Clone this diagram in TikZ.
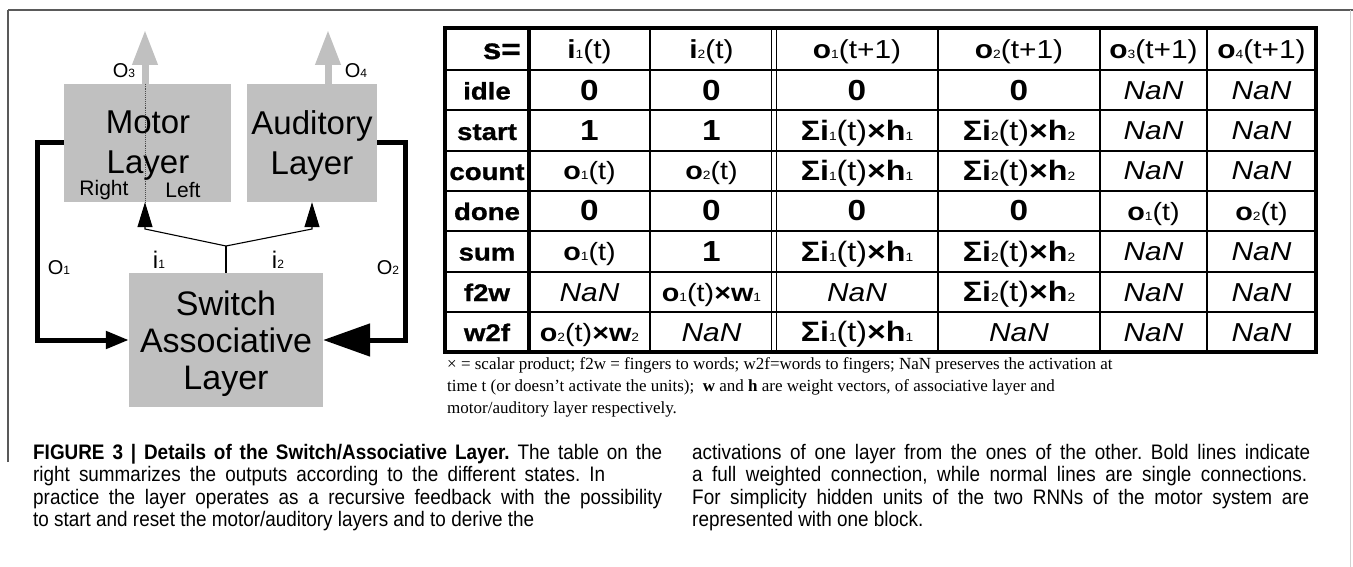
\documentclass[tikz,border=0pt]{standalone}
\usepackage{fontspec}
\setmainfont{Liberation Sans}
\newfontfamily\tabfont[FakeStretch=1.15]{Liberation Sans}
\newfontfamily\lblfont[FakeStretch=1.15,BoldFeatures={FakeBold=1}]{Liberation Sans}
\newfontfamily\serfont{Liberation Serif}
\newfontfamily\capfont[FakeStretch=0.9]{Liberation Sans}
\usetikzlibrary{arrows.meta}
\definecolor{boxgray}{RGB}{192,192,192}
\definecolor{framegray}{RGB}{90,90,90}
\newcommand\fsz[1]{\fontsize{#1}{#1}\selectfont}
\newcommand\dsub[1]{{\fontsize{12}{12}\selectfont #1}}
\newcommand\bsub[2]{{\bfseries #1}\dsub{#2}}
\newcommand\tbot[1]{\bsub{o}{#1}(t)}
\newcommand\tbsig[2]{{\fsz{28}{\bfseries Σ}\bsub{i}{#1}(t){\bfseries ×}\bsub{h}{#2}}}
\newcommand\tbnan{{\itshape\fsz{26}NaN}}
\newcommand\tbval[1]{{\bfseries\fsz{29}#1}}
\frenchspacing
\begin{document}
\begin{tikzpicture}[x=1pt,y=-1pt,
  layerbox/.style={fill=boxgray, draw=none, inner sep=0pt},
  bigtxt/.style={align=center, inner sep=0pt},
  smalltxt/.style={inner sep=0pt, font=\fsz{21}},
  lbl/.style={inner sep=0pt, anchor=base, font=\fsz{20}},
  ilbl/.style={inner sep=0pt, anchor=base, font=\fsz{24}},
  grayarrow/.style={draw=boxgray, line width=7pt, -{Triangle[length=35pt,width=24pt]}},
  dotline/.style={draw=black!70, line width=0.9pt, densely dotted},
  fb/.style={draw=black, line width=5pt},
  thinl/.style={draw=black, line width=1.1pt},
  tline/.style={draw=black, line width=2pt},
  tthin/.style={draw=black, line width=1.8pt},
  touter/.style={draw=black, line width=4pt},
  tc/.style={anchor=base, inner sep=0pt, font=\tabfont\fsz{25}},
  th/.style={anchor=base, inner sep=0pt, font=\tabfont\fsz{26}},
  rl/.style={anchor=base, inner sep=0pt, font=\lblfont\bfseries\fsz{24}},
  sertxt/.style={anchor=base west, inner sep=0pt, font=\serfont\fsz{17}},
  captxt/.style={anchor=base west, inner sep=0pt, font=\capfont\fsz{21}}
]
\useasboundingbox (0,0) rectangle (1353,567);
\fill[white] (0,0) rectangle (1353,567);
% frame
\draw[draw=black!65, line width=1.6pt] (8,462) -- (8,10);
\draw[draw=framegray, line width=1.2pt] (8,10) -- (1353,10);
\draw[draw=black!18, line width=1pt] (1350,10) -- (1350,567);

% ---------------- left diagram ----------------
\node[layerbox, minimum width=167pt, minimum height=118pt] (motor) at (147.5,143) {};
\node[layerbox, minimum width=130pt, minimum height=118pt] (audit) at (312,143) {};
\node[layerbox, minimum width=194pt, minimum height=134pt] (switch) at (226,340) {};

\coordinate (o3tip) at (145,30);
\coordinate (o4tip) at (328,30);
\draw[grayarrow] (o3tip |- motor.north) -- (o3tip);
\draw[grayarrow] (o4tip |- audit.north) -- (o4tip);
\draw[dotline] (o3tip |- motor.north) -- (o3tip |- motor.south);

\node[bigtxt, font=\fontsize{33}{40}\selectfont] (motortxt) at (148,146) {Motor\\Layer};
\node[bigtxt, font=\fontsize{33}{40}\selectfont] (audittxt) at (312,146) {Auditory\\Layer};
\node[bigtxt, font=\fontsize{34}{37}\selectfont] (switchtxt) at (226,344) {Switch\\Associative\\Layer};
\node[smalltxt] (rightlbl) at (104,190) {Right};
\node[smalltxt] (leftlbl) at (183,190) {Left};

\coordinate (lc) at (37,143);
\coordinate (rc) at (405,143);
\draw[fb, -{Triangle[length=23pt,width=17pt]}] (motor.west) -- (lc) |- (switch.west);
\draw[fb, -{Triangle[length=47pt,width=32pt]}] (audit.east) -- (rc) |- (switch.east);

\coordinate (fork) at (226,246);
\coordinate (mi) at (145,229);
\coordinate (ai) at (312,229);
\draw[thinl] (switch.north) -- (fork);
\draw[thinl, -{Triangle[length=25pt,width=15pt]}] (fork) -- (mi) -- (mi |- motor.south);
\draw[thinl, -{Triangle[length=25pt,width=15pt]}] (fork) -- (ai) -- (ai |- audit.south);

\node[lbl] (o3l) at (124,78) {O\dsub{3}};
\node[lbl] (o4l) at (356,78) {O\dsub{4}};
\node[lbl] (o1l) at (59,274) {O\dsub{1}};
\node[lbl] (o2l) at (388,274) {O\dsub{2}};
\node[ilbl] (i1l) at (159,268) {i\dsub{1}};
\node[ilbl] (i2l) at (278,268) {i\dsub{2}};

% ---------------- table ----------------
\foreach \yy in {70,110.5,151,191,231,271.5,312} \draw[tline] (445,\yy) -- (1316,\yy);
\draw[draw=black, line width=4.5pt] (529,28.3) -- (529,352);
\foreach \xx in {650,938,1100,1207} \draw[tthin] (\xx,28.3) -- (\xx,352);
\draw[draw=black, line width=1pt] (771,28.3) -- (771,352);
\draw[draw=black, line width=1pt] (776,28.3) -- (776,352);
\draw[touter] (445,28.3) rectangle (1316,352);

% header
\node[anchor=base east, inner sep=0pt, font=\lblfont\bfseries\fsz{29}] (hs) at (521,59) {s=};
\node[th] (h1) at (589.5,58.5) {\bsub{i}{1}(t)};
\node[th] (h2) at (711.5,58.5) {\bsub{i}{2}(t)};
\node[th] (h3) at (857,58.5) {\bsub{o}{1}(t+1)};
\node[th] (h4) at (1019,58.5) {\bsub{o}{2}(t+1)};
\node[th] (h5) at (1153.5,58.5) {\bsub{o}{3}(t+1)};
\node[th] (h6) at (1261.5,58.5) {\bsub{o}{4}(t+1)};

% idle
\node[rl] (r1) at (487,99.5) {idle};
\node[tc] (c11) at (589.5,100.5) {\tbval{0}};
\node[tc] (c12) at (711.5,100.5) {\tbval{0}};
\node[tc] (c13) at (857,100.5) {\tbval{0}};
\node[tc] (c14) at (1019,100.5) {\tbval{0}};
\node[tc] (c15) at (1153.5,99.5) {\tbnan};
\node[tc] (c16) at (1261.5,99.5) {\tbnan};
% start
\node[rl] (r2) at (487,140) {start};
\node[tc] (c21) at (589.5,141) {\tbval{1}};
\node[tc] (c22) at (711.5,141) {\tbval{1}};
\node[tc] (c23) at (857,140.5) {\tbsig{1}{1}};
\node[tc] (c24) at (1019,140.5) {\tbsig{2}{2}};
\node[tc] (c25) at (1153.5,140) {\tbnan};
\node[tc] (c26) at (1261.5,140) {\tbnan};
% count
\node[rl] (r3) at (487,180) {count};
\node[tc] (c31) at (589.5,180) {\tbot{1}};
\node[tc] (c32) at (711.5,180) {\tbot{2}};
\node[tc] (c33) at (857,180.5) {\tbsig{1}{1}};
\node[tc] (c34) at (1019,180.5) {\tbsig{2}{2}};
\node[tc] (c35) at (1153.5,180) {\tbnan};
\node[tc] (c36) at (1261.5,180) {\tbnan};
% done
\node[rl] (r4) at (487,220) {done};
\node[tc] (c41) at (589.5,221) {\tbval{0}};
\node[tc] (c42) at (711.5,221) {\tbval{0}};
\node[tc] (c43) at (857,221) {\tbval{0}};
\node[tc] (c44) at (1019,221) {\tbval{0}};
\node[tc] (c45) at (1153.5,220) {\tbot{1}};
\node[tc] (c46) at (1261.5,220) {\tbot{2}};
% sum
\node[rl] (r5) at (487,260.5) {sum};
\node[tc] (c51) at (589.5,260.5) {\tbot{1}};
\node[tc] (c52) at (711.5,261.5) {\tbval{1}};
\node[tc] (c53) at (857,261) {\tbsig{1}{1}};
\node[tc] (c54) at (1019,261) {\tbsig{2}{2}};
\node[tc] (c55) at (1153.5,260.5) {\tbnan};
\node[tc] (c56) at (1261.5,260.5) {\tbnan};
% f2w
\node[rl] (r6) at (487,301) {f2w};
\node[tc] (c61) at (589.5,301) {\tbnan};
\node[tc] (c62) at (711.5,301) {\tbot{1}{\bfseries ×}\bsub{w}{1}};
\node[tc] (c63) at (857,301) {\tbnan};
\node[tc] (c64) at (1019,301.5) {\tbsig{2}{2}};
\node[tc] (c65) at (1153.5,301) {\tbnan};
\node[tc] (c66) at (1261.5,301) {\tbnan};
% w2f
\node[rl] (r7) at (487,341) {w2f};
\node[tc] (c71) at (589.5,341) {\tbot{2}{\bfseries ×}\bsub{w}{2}};
\node[tc] (c72) at (711.5,341) {\tbnan};
\node[tc] (c73) at (857,341.5) {\tbsig{1}{1}};
\node[tc] (c74) at (1019,341) {\tbnan};
\node[tc] (c75) at (1153.5,341) {\tbnan};
\node[tc] (c76) at (1261.5,341) {\tbnan};

% table note
\node[sertxt] (n1) at (447,369) {× = scalar product; f2w = fingers to words; w2f=words to fingers; NaN preserves the activation at};
\node[sertxt] (n2) at (447,391) {time t (or doesn’t activate the units);\ \ \textbf{w} and \textbf{h} are weight vectors, of associative layer and};
\node[sertxt] (n3) at (447,413) {motor/auditory layer respectively.};

% figure caption
\node[captxt] (fc1) at (33,459) {\makebox[629pt][s]{\textbf{FIGURE 3 | Details of the Switch/Associative Layer.} The table on the}};
\node[captxt] (fc2) at (33,481.5) {\makebox[572pt][s]{right summarizes the outputs according to the different states. In}};
\node[captxt] (fc3) at (33,504) {\makebox[629pt][s]{practice the layer operates as a recursive feedback with the possibility}};
\node[captxt] (fc4) at (33,526.5) {to start and reset the motor/auditory layers and to derive the};
\node[captxt] (fc5) at (692,459) {\makebox[618pt][s]{activations of one layer from the ones of the other. Bold lines indicate}};
\node[captxt] (fc6) at (692,481.5) {\makebox[615pt][s]{a full weighted connection, while normal lines are single connections.}};
\node[captxt] (fc7) at (692,504) {\makebox[617pt][s]{For simplicity hidden units of the two RNNs of the motor system are}};
\node[captxt] (fc8) at (692,526.5) {represented with one block.};
\end{tikzpicture}
\end{document}
